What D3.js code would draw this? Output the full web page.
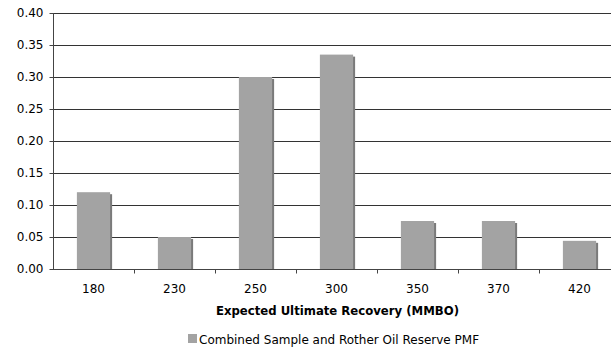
<!DOCTYPE html>
<html>
<head>
<meta charset="utf-8">
<script src="https://cdn.jsdelivr.net/npm/d3@7"></script>
<style>
html,body{margin:0;padding:0;background:#fff;}
svg{display:block;}
text{font-family:"DejaVu Sans",Verdana,sans-serif;fill:#000;}
</style>
</head>
<body>
<svg id="c" width="611" height="349"></svg>
<script>
const categories = ["180","230","250","300","350","370","420"];
const values = [0.12, 0.05, 0.30, 0.335, 0.075, 0.075, 0.044];
const yTicks = [0,0.05,0.10,0.15,0.20,0.25,0.30,0.35,0.40];
const seriesName = "Combined Sample and Rother Oil Reserve PMF";
const xTitle = "Expected Ultimate Recovery (MMBO)";

const svg = d3.select("#c");
const L = 53, R = 620, T = 13, B = 269;
const x = d3.scaleBand().domain(categories).range([L, R]).paddingInner(0.59).paddingOuter(0.295);
const y = d3.scaleLinear().domain([0, 0.40]).range([B, T]);

// gridlines
svg.append("g").selectAll("line").data(yTicks.slice(1)).join("line")
  .attr("x1", L).attr("x2", R)
  .attr("y1", d => Math.round(y(d)) + 0.5).attr("y2", d => Math.round(y(d)) + 0.5)
  .attr("stroke", "#333").attr("stroke-width", 1);

// shadows
svg.append("g").selectAll("rect").data(values).join("rect")
  .attr("x", (d,i) => x(categories[i]) + 2)
  .attr("y", d => y(d) + 2)
  .attr("width", x.bandwidth())
  .attr("height", d => B - y(d) - 2)
  .attr("fill", "#7a7a7a");
// bars
svg.append("g").selectAll("rect").data(values).join("rect")
  .attr("x", (d,i) => x(categories[i]))
  .attr("y", d => y(d))
  .attr("width", x.bandwidth())
  .attr("height", d => B - y(d))
  .attr("fill", "#a3a3a3");

// y axis
const yAxis = d3.axisLeft(y).tickValues(yTicks).tickFormat(d3.format(".2f")).tickSize(4).tickPadding(6);
const gy = svg.append("g").attr("transform", `translate(${L + 0.5},0)`).call(yAxis);
gy.select(".domain").attr("stroke", "#444").attr("d", `M0,${T}V${B}`);
gy.selectAll(".tick line").attr("stroke", "#444");
gy.selectAll(".tick text").attr("font-size", "12px").attr("font-family", "DejaVu Sans").attr("fill", "#000");

// x axis
const xb = d3.scaleLinear().domain([0, categories.length]).range([L, R]);
const gx = svg.append("g").attr("transform", `translate(0,${B + 0.5})`);
gx.append("line").attr("x1", L).attr("x2", R).attr("stroke", "#444");
gx.selectAll("line.t").data(d3.range(1, categories.length + 1)).join("line").attr("class","t")
  .attr("x1", d => Math.round(xb(d)) + 0.5).attr("x2", d => Math.round(xb(d)) + 0.5)
  .attr("y1", 0).attr("y2", 4).attr("stroke", "#444");
gx.selectAll("text").data(categories).join("text")
  .attr("x", d => x(d) + x.bandwidth() / 2)
  .attr("y", 23)
  .attr("text-anchor", "middle")
  .attr("font-size", "12px")
  .text(d => d);

svg.append("text").attr("x", (L + R) / 2 + 1).attr("y", 315)
  .attr("text-anchor", "middle").attr("font-size", "11.7px").attr("font-weight", "bold")
  .text(xTitle);

// legend
const lg = svg.append("g");
lg.append("rect").attr("x", 188).attr("y", 334).attr("width", 9).attr("height", 9).attr("fill", "#a3a3a3");
lg.append("text").attr("x", 199).attr("y", 343.5).attr("font-size", "12px").text(seriesName);
</script>
</body>
</html>
